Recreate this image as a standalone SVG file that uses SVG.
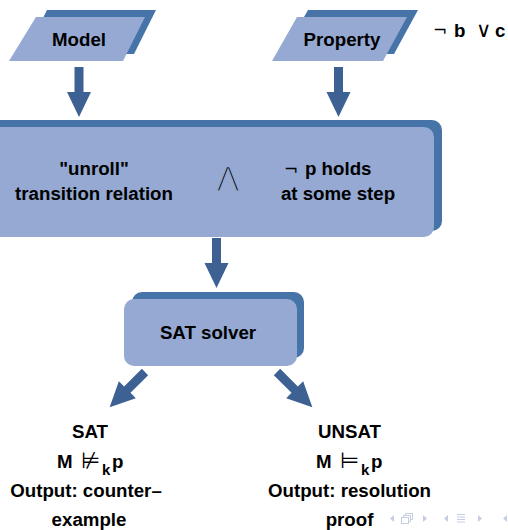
<svg xmlns="http://www.w3.org/2000/svg" width="508" height="530" viewBox="0 0 508 530">
  <style>
    .back { fill: #4674A9; }
    .front { fill: #95A9D2; }
    .arrow { fill: #3E6194; }
    .lbl { font-family: "Liberation Sans", Arial, sans-serif; font-weight: bold; font-size: 18.7px; fill: #000; text-anchor: middle; }
    .start { text-anchor: start; }
    .sym { font-family: "DejaVu Sans", sans-serif; font-weight: normal; fill: #000; }
    .thin-on-box { stroke: #95A9D2; stroke-width: 1.4; }
    .nav { fill: #C5CDE3; stroke: none; }
    .navl { fill: none; stroke: #C5CDE3; stroke-width: 1; }
  </style>
  <defs>
    <!-- block arrow, tail at origin, pointing along +y -->
    <path id="blockArrow" d="M-4.5,0 H4.5 V25 H12 L0,50 L-12,25 H-4.5 Z"/>
  </defs>

  <rect width="508" height="530" fill="#fff"/>

  <g id="model">
    <polygon class="back" points="47,10 156,10 134,54 25,54"/>
    <polygon class="front" points="36,17 145,17 123,61 9,61"/>
    <text class="lbl" x="79" y="45.5">Model</text>
  </g>

  <g id="property">
    <polygon class="back" points="308,10 418,10 394,54 283,54"/>
    <polygon class="front" points="297,17 407,17 383,61 272,61"/>
    <text class="lbl" x="342" y="45.5">Property</text>
  </g>

  <g id="formula">
    <text class="lbl start" y="37"><tspan class="sym" x="433" y="36" font-size="17">¬</tspan><tspan x="454" y="37">b</tspan><tspan class="sym" x="476" font-size="21">∨</tspan><tspan x="495">c</tspan></text>
  </g>

  <g id="unroll">
    <rect class="back" x="-20" y="120" width="462" height="111" rx="10"/>
    <rect class="front" x="-20" y="127" width="454" height="110" rx="10"/>
    <text class="lbl" x="94" y="175">"unroll"</text>
    <text class="lbl" x="94" y="200">transition relation</text>
    <text class="sym thin-on-box" x="228" y="186" font-size="27" text-anchor="middle">⋀</text>
    <text class="lbl start" y="175"><tspan class="sym" x="284" font-size="17">¬</tspan><tspan x="305">p holds</tspan></text>
    <text class="lbl" x="338" y="200">at some step</text>
  </g>

  <g id="sat-solver">
    <rect class="back" x="132" y="292" width="172" height="66" rx="10"/>
    <rect class="front" x="124" y="299" width="173" height="67" rx="10"/>
    <text class="lbl" x="208" y="339">SAT solver</text>
  </g>

  <g id="sat-result">
    <text class="lbl" x="90" y="438">SAT</text>
    <text class="lbl start" y="468"><tspan x="57">M</tspan><tspan class="sym" x="81" font-size="22">⊭</tspan><tspan x="102" y="475" font-size="15">k</tspan><tspan x="112" y="468">p</tspan></text>
    <text class="lbl" x="86" y="497">Output: counter–</text>
    <text class="lbl" x="89" y="526">example</text>
  </g>

  <g id="unsat-result">
    <text class="lbl" x="349.5" y="438">UNSAT</text>
    <text class="lbl start" y="468"><tspan x="316">M</tspan><tspan class="sym" x="340" font-size="22">⊨</tspan><tspan x="361" y="475" font-size="15">k</tspan><tspan x="371" y="468">p</tspan></text>
    <text class="lbl" x="349.5" y="497">Output: resolution</text>
    <text class="lbl" x="349.5" y="526">proof</text>
  </g>

  <g id="connectors">
    <use href="#blockArrow" class="arrow" transform="translate(79,67)"/>
    <use href="#blockArrow" class="arrow" transform="translate(338.5,67)"/>
    <use href="#blockArrow" class="arrow" transform="translate(216.5,238)"/>
    <use href="#blockArrow" class="arrow" transform="translate(145,372) rotate(45)"/>
    <use href="#blockArrow" class="arrow" transform="translate(277,372) rotate(-45)"/>
  </g>

  <g id="navigation">
    <polygon class="nav" points="394,515 394,522 390,518.5"/>
    <rect class="navl" x="401.5" y="517.5" width="7" height="6"/>
    <path class="navl" d="M403.5,517.5 V515.5 H410.5 V521.5 H408.5 M405.5,515.5 V513.5 H412.5 V519.5 H410.5"/>
    <polygon class="nav" points="423,515 423,522 427,518.5"/>
    <polygon class="nav" points="448,515 448,522 444,518.5"/>
    <path class="navl" d="M457,514.5 H465 M457,517 H465 M457,519.5 H465 M457,522 H465"/>
    <polygon class="nav" points="478,515 478,522 482,518.5"/>
    <polygon class="nav" points="507,515 507,522 503,518.5"/>
  </g>
</svg>
